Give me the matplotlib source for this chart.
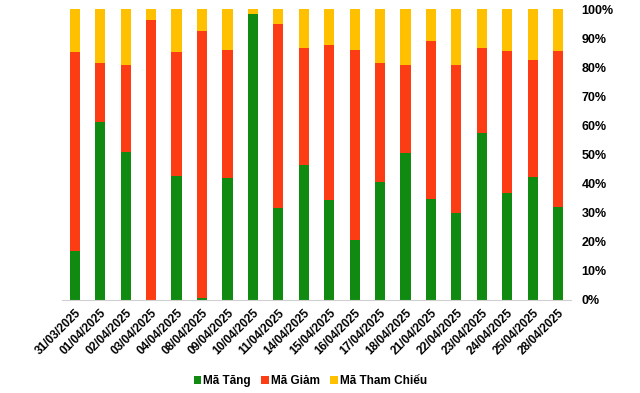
import matplotlib
matplotlib.use("Agg")
import matplotlib.pyplot as plt
import numpy as np
from matplotlib.ticker import PercentFormatter

plt.rcParams['font.family'] = ['Liberation Sans', 'DejaVu Sans']

# data (share of codes, %)
dates = ['31/03/2025', '01/04/2025', '02/04/2025', '03/04/2025', '04/04/2025',
         '08/04/2025', '09/04/2025', '10/04/2025', '11/04/2025', '14/04/2025',
         '15/04/2025', '16/04/2025', '17/04/2025', '18/04/2025', '21/04/2025',
         '22/04/2025', '23/04/2025', '24/04/2025', '25/04/2025', '28/04/2025']
ma_tang = [16.9, 61.2, 50.9, 0.0, 42.6, 0.8, 41.9, 98.3, 31.7, 46.5,
           34.4, 20.6, 40.5, 50.5, 34.7, 29.9, 57.4, 36.8, 42.3, 32.0]
ma_giam = [68.4, 20.4, 29.9, 96.2, 42.7, 91.6, 44.0, 0.0, 63.1, 40.1,
           53.2, 65.3, 41.1, 30.3, 54.3, 50.9, 29.2, 48.8, 40.2, 53.6]
ma_tham_chieu = [100 - a - b for a, b in zip(ma_tang, ma_giam)]

green = '#118a12'
red = '#fc3d13'
yellow = '#ffc000'

fig = plt.figure(figsize=(6.4, 3.93), dpi=100)
ax = fig.add_axes([0.097, 0.237, 0.795, 0.740])

x = np.arange(len(dates))
w = 0.4
tang = np.array(ma_tang)
giam = np.array(ma_giam)
tc = np.array(ma_tham_chieu)
ax.bar(x, tang, w, color=green, label='Mã Tăng')
ax.bar(x, giam, w, bottom=tang, color=red, label='Mã Giảm')
ax.bar(x, tc, w, bottom=tang + giam, color=yellow, label='Mã Tham Chiếu')

ax.set_xlim(-0.5, len(dates) - 0.5)
ax.set_ylim(0, 100)
ax.set_yticks(np.arange(0, 101, 10))
ax.yaxis.set_major_formatter(PercentFormatter(decimals=0))
ax.yaxis.tick_right()
ax.tick_params(axis='y', length=0, pad=7.5, labelsize=9)
ax.tick_params(axis='x', length=0, pad=5, labelsize=8.5)
for lbl in ax.get_yticklabels():
    lbl.set_fontweight('bold')
ax.set_xticks(x)
ax.set_xticklabels(dates, rotation=45, ha='right', rotation_mode='anchor',
                   fontweight='bold')

for s in ['top', 'right', 'left']:
    ax.spines[s].set_visible(False)
ax.spines['bottom'].set_color('#d0d0d0')

fig.legend(loc='center', bbox_to_anchor=(0.485, 0.03), ncol=3, frameon=False,
           prop={'size': 8.5, 'weight': 'bold'}, handlelength=0.6,
           handleheight=0.6, handletextpad=0.2, columnspacing=0.9)

fig.savefig('out.png', dpi=100)
